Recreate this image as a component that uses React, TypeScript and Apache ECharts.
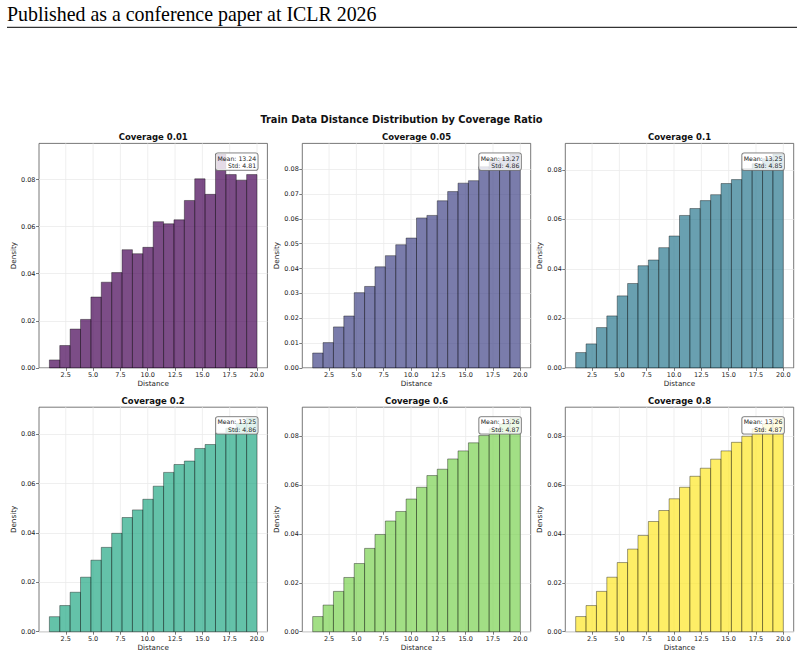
import React, { useEffect, useRef } from 'react';
import * as echarts from 'echarts';

// Distance histograms (density) for each coverage ratio, 20 bins over [1, 20]
const distanceMin = 1;
const distanceMax = 20;
const binCount = 20;

const coverageLabels = ['0.01', '0.05', '0.1', '0.2', '0.6', '0.8'];

const densityCov001 = [0.0034, 0.0095, 0.0165, 0.0206, 0.0301, 0.0364, 0.0405, 0.0502, 0.0485, 0.0512, 0.0621, 0.0612, 0.0629, 0.0711, 0.0803, 0.0737, 0.0908, 0.0821, 0.0797, 0.0821];
const densityCov005 = [0.0060, 0.0102, 0.0165, 0.0209, 0.0303, 0.0328, 0.0407, 0.0452, 0.0496, 0.0523, 0.0604, 0.0614, 0.0673, 0.0710, 0.0744, 0.0754, 0.0810, 0.0830, 0.0845, 0.0861];
const densityCov01 = [0.0062, 0.0097, 0.0163, 0.0210, 0.0291, 0.0341, 0.0413, 0.0436, 0.0486, 0.0533, 0.0616, 0.0644, 0.0676, 0.0700, 0.0745, 0.0761, 0.0805, 0.0825, 0.0845, 0.0864];
const densityCov02 = [0.0061, 0.0106, 0.0160, 0.0221, 0.0290, 0.0342, 0.0399, 0.0463, 0.0494, 0.0537, 0.0590, 0.0646, 0.0678, 0.0692, 0.0743, 0.0759, 0.0805, 0.0825, 0.0845, 0.0867];
const densityCov06 = [0.0062, 0.0109, 0.0165, 0.0222, 0.0279, 0.0341, 0.0398, 0.0453, 0.0492, 0.0543, 0.0591, 0.0639, 0.0665, 0.0707, 0.0740, 0.0773, 0.0803, 0.0830, 0.0850, 0.0875];
const densityCov08 = [0.0062, 0.0107, 0.0165, 0.0223, 0.0283, 0.0338, 0.0394, 0.0451, 0.0496, 0.0544, 0.0591, 0.0636, 0.0669, 0.0706, 0.0740, 0.0775, 0.0800, 0.0830, 0.0850, 0.0875];

const densities = [densityCov001, densityCov005, densityCov01, densityCov02, densityCov06, densityCov08];

const meanValues = [13.24, 13.27, 13.25, 13.25, 13.26, 13.26];
const stdValues = [4.81, 4.86, 4.85, 4.86, 4.87, 4.87];

const xTickValues = [2.5, 5, 7.5, 10, 12.5, 15, 17.5, 20];
const yTicksCoarse = [0, 0.02, 0.04, 0.06, 0.08];
const yTicksFine = [0, 0.01, 0.02, 0.03, 0.04, 0.05, 0.06, 0.07, 0.08];
const yTickSets = [yTicksCoarse, yTicksFine, yTicksCoarse, yTicksCoarse, yTicksCoarse, yTicksCoarse];

// viridis samples, one per panel
const panelColors = ['#440154', '#414487', '#2A788E', '#22A884', '#7AD151', '#FDE725'];

const SANS = '"DejaVu Sans", sans-serif';
const TEXT = '#222';
const GRID_LINE = '#ebebeb';

// panel layout (px)
const colLefts = [39, 302.3, 565.3];
const rowTops = [143.4, 407.2];
const plotW = 228.4;
const plotH = 224.5;

function hexToRgba(hex: string, a: number) {
  const n = parseInt(hex.slice(1), 16);
  return `rgba(${(n >> 16) & 255},${(n >> 8) & 255},${n & 255},${a})`;
}

export default function App() {
  const ref = useRef<HTMLDivElement>(null);

  useEffect(() => {
    if (!ref.current) return;
    const chart = echarts.init(ref.current, undefined, { renderer: 'svg' });

    const span = distanceMax - distanceMin;
    const binWidth = span / binCount;
    const xMin = distanceMin - 0.05 * span;
    const xMax = distanceMax + 0.05 * span;

    const grids: any[] = [];
    const xAxes: any[] = [];
    const yAxes: any[] = [];
    const series: any[] = [];
    const graphics: any[] = [];

    densities.forEach((vals, i) => {
      const col = i % 3;
      const row = Math.floor(i / 3);
      const left = colLefts[col];
      const top = rowTops[row];
      grids.push({
        left, top, width: plotW, height: plotH,
        show: true, borderColor: '#555', borderWidth: 0.8, backgroundColor: 'transparent',
      });

      xAxes.push({
        type: 'value', gridIndex: i, min: xMin, max: xMax,
        name: 'Distance', nameLocation: 'middle', nameGap: 12.5,
        nameTextStyle: { fontFamily: SANS, fontSize: 7.2, color: TEXT },
        axisLine: { show: false },
        axisTick: { show: true, length: 3, lineStyle: { color: '#444', width: 0.7 }, customValues: xTickValues },
        axisLabel: {
          show: true, margin: 3.5, fontFamily: SANS, fontSize: 6.5, color: TEXT,
          customValues: xTickValues, formatter: (v: number) => v.toFixed(1),
        },
        splitLine: { show: false },
      });

      const step = yTickSets[i][1] - yTickSets[i][0];
      const yMax = Math.max(...vals) * 1.05;
      yAxes.push({
        type: 'value', gridIndex: i, min: 0, max: yMax, interval: step,
        name: 'Density', nameLocation: 'middle', nameGap: 21,
        nameTextStyle: { fontFamily: SANS, fontSize: 7.2, color: TEXT },
        axisLine: { show: false },
        axisTick: { show: true, length: 3, lineStyle: { color: '#444', width: 0.7 }, customValues: yTickSets[i] },
        axisLabel: {
          show: true, margin: 3.5, fontFamily: SANS, fontSize: 6.5, color: TEXT,
          customValues: yTickSets[i], formatter: (v: number) => v.toFixed(2),
        },
        splitLine: { show: true, lineStyle: { color: GRID_LINE, width: 0.8 } },
      });

      // vertical grid lines at the x tick positions, beneath the bars
      series.push({
        type: 'custom', xAxisIndex: i, yAxisIndex: i, z: 1, silent: true,
        encode: { x: 0 },
        data: xTickValues.map((v) => [v]),
        renderItem: (params: any, api: any) => {
          const a = api.coord([api.value(0), 0]);
          const b = api.coord([api.value(0), yMax]);
          return {
            type: 'line',
            shape: { x1: a[0], y1: a[1], x2: b[0], y2: b[1] },
            style: { stroke: GRID_LINE, lineWidth: 0.8 },
          };
        },
      });

      const fill = hexToRgba(panelColors[i], 0.7);
      series.push({
        type: 'custom', xAxisIndex: i, yAxisIndex: i, z: 3, silent: true,
        encode: { x: [0, 1], y: 2 },
        data: vals.map((d, k) => [distanceMin + k * binWidth, distanceMin + (k + 1) * binWidth, d]),
        renderItem: (params: any, api: any) => {
          const p0 = api.coord([api.value(0), api.value(2)]);
          const p1 = api.coord([api.value(1), 0]);
          return {
            type: 'rect',
            shape: { x: p0[0], y: p0[1], width: p1[0] - p0[0], height: p1[1] - p0[1] },
            style: { fill, stroke: 'rgba(0,0,0,0.55)', lineWidth: 0.7 },
          };
        },
      });

      // panel title
      graphics.push({
        type: 'text', z: 10,
        style: {
          text: `Coverage ${coverageLabels[i]}`, x: left + plotW / 2, y: top - 6,
          align: 'center', verticalAlign: 'middle',
          font: `bold 8.5px ${SANS}`, fill: '#111',
        },
      });

      // mean / std annotation box
      graphics.push({
        type: 'text', z: 20,
        style: {
          text: `Mean: ${meanValues[i].toFixed(2)}\nStd: ${stdValues[i].toFixed(2)}`,
          x: left + plotW - 9.7, y: top + 9.8,
          align: 'right', verticalAlign: 'top',
          font: `6.2px ${SANS}`, fill: TEXT, lineHeight: 7.6,
          backgroundColor: 'rgba(255,255,255,0.8)',
          borderColor: '#777', borderWidth: 0.8, borderRadius: 2,
          padding: [1, 1.6, 0.5, 1.6],
        },
      });
    });

    graphics.push(
      {
        type: 'text',
        style: {
          text: 'Published as a conference paper at ICLR 2026', x: 7, y: 13.5,
          align: 'left', verticalAlign: 'middle',
          font: '19.9px "Liberation Serif", serif', fill: '#000',
        },
      },
      {
        type: 'line',
        shape: { x1: 7, y1: 27.3, x2: 797, y2: 27.3 },
        style: { stroke: '#000', lineWidth: 1 },
      },
      {
        type: 'text',
        style: {
          text: 'Train Data Distance Distribution by Coverage Ratio', x: 401.5, y: 119.5,
          align: 'center', verticalAlign: 'middle',
          font: `bold 9.8px ${SANS}`, fill: '#111',
        },
      },
    );

    chart.setOption({
      animation: false,
      backgroundColor: '#fff',
      grid: grids,
      xAxis: xAxes,
      yAxis: yAxes,
      series,
      graphic: graphics,
    });

    return () => chart.dispose();
  }, []);

  return (
    <div
      ref={ref}
      style={{ position: 'fixed', left: 0, top: 0, width: 804, height: 657, background: '#fff' }}
    />
  );
}
